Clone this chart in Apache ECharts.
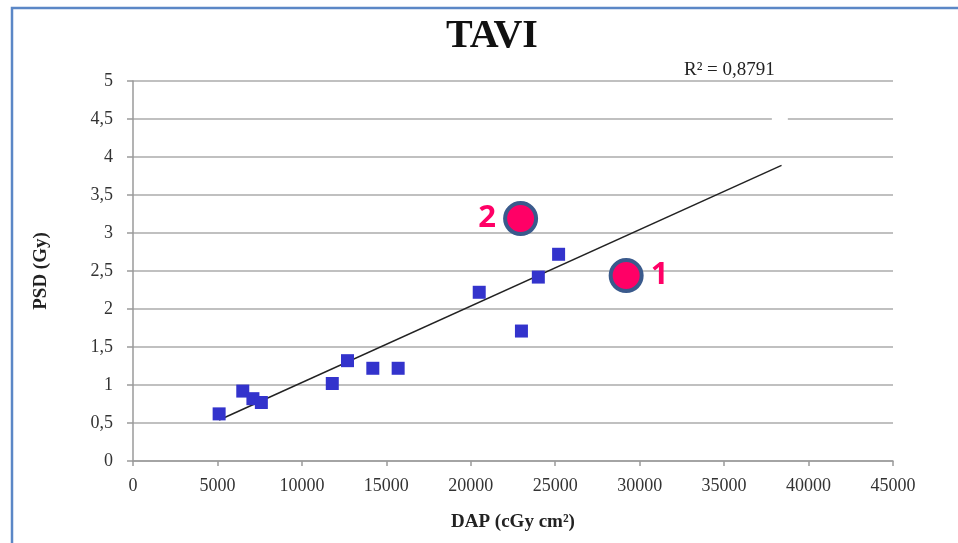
<!DOCTYPE html>
<html>
<head>
<meta charset="utf-8">
<script src="https://cdn.jsdelivr.net/npm/echarts@6/dist/echarts.min.js"></script>
<style>html,body{margin:0;padding:0;background:#fff}#c{width:958px;height:543px}</style>
</head>
<body>
<div id="c"></div>
<script>
// Data
const dapValues = [5100, 6500, 7100, 7600, 11800, 12700, 14200, 15700, 20500, 23000, 24000, 25200];
const psdValues = [0.62, 0.92, 0.82, 0.77, 1.02, 1.32, 1.22, 1.22, 2.22, 1.71, 2.42, 2.72];
const highlightDap = [29200, 22950];
const highlightPsd = [2.44, 3.19];
const highlightLabels = ['1', '2'];
const hiddenDap = [38300];
const hiddenPsd = [4.5];
const trendDap = [5100, 38400];
const trendPsd = [0.54, 3.89];
const titleText = 'TAVI';
const r2Text = 'R² = 0,8791';
const xName = 'DAP (cGy cm²)';
const yName = 'PSD (Gy)';

const serif = '"Liberation Serif", "DejaVu Serif", serif';
const chart = echarts.init(document.getElementById('c'));
chart.setOption({
  animation: false,
  backgroundColor: '#fff',
  title: [
    { text: titleText, top: 12, left: 441,
      textStyle: { fontFamily: serif, fontWeight: 'bold', fontSize: 40, color: '#111' } },
    { text: r2Text, left: 679, top: 56,
      textStyle: { fontFamily: serif, fontWeight: 'normal', fontSize: 19, color: '#222' } }
  ],
  graphic: [
    { type: 'rect', shape: { x: 12, y: 8, width: 1000, height: 600 },
      style: { fill: 'none', stroke: '#5B87C6', lineWidth: 2.5 }, silent: true, z: 100 }
  ],
  grid: { left: 133, right: 65, top: 81, bottom: 82, containLabel: false },
  xAxis: {
    type: 'value', min: 0, max: 45000, interval: 5000,
    name: xName, nameLocation: 'middle', nameGap: 52,
    nameTextStyle: { fontFamily: serif, fontWeight: 'bold', fontSize: 19, color: '#222' },
    axisLine: { show: true, lineStyle: { color: '#9a9a9a', width: 1.5 } },
    axisTick: { show: true, length: 5, lineStyle: { color: '#9a9a9a', width: 1.5 } },
    axisLabel: { fontFamily: serif, fontSize: 18, color: '#333', margin: 16,
      formatter: v => String(v) },
    splitLine: { show: false }
  },
  yAxis: {
    type: 'value', min: 0, max: 5, interval: 0.5,
    name: yName, nameLocation: 'middle', nameGap: 82, nameRotate: 90,
    nameTextStyle: { fontFamily: serif, fontWeight: 'bold', fontSize: 19, color: '#222' },
    axisLine: { show: true, lineStyle: { color: '#9a9a9a', width: 1.5 } },
    axisTick: { show: true, length: 6, lineStyle: { color: '#9a9a9a', width: 1.5 } },
    axisLabel: { fontFamily: serif, fontSize: 18, color: '#333', margin: 20,
      formatter: v => String(v).replace('.', ',') },
    splitLine: { show: true, lineStyle: { color: '#ababab', width: 1.5 } }
  },
  series: [
    { type: 'line', data: trendDap.map((x, i) => [x, trendPsd[i]]), showSymbol: false,
      lineStyle: { color: '#222', width: 1.5 }, z: 3 },
    { type: 'scatter', symbol: 'rect', symbolSize: 13,
      data: dapValues.map((x, i) => [x, psdValues[i]]),
      itemStyle: { color: '#3333CC', opacity: 1 }, z: 4 },
    { type: 'scatter', symbol: 'rect', symbolSize: 16,
      data: hiddenDap.map((x, i) => [x, hiddenPsd[i]]),
      itemStyle: { color: '#fff', opacity: 1 }, z: 4 },
    { type: 'scatter', symbol: 'circle', symbolSize: 31,
      data: highlightDap.map((x, i) => ({ value: [x, highlightPsd[i]],
        label: { show: true, formatter: highlightLabels[i], position: i === 0 ? 'right' : 'left', distance: 7 } })),
      itemStyle: { color: '#FF0066', borderColor: '#3A5A8C', borderWidth: 4, opacity: 1 },
      label: { fontFamily: '"Open Sans", "DejaVu Sans", sans-serif', fontWeight: 'bold', fontSize: 31, color: '#FF0066' },
      z: 5 }
  ]
});
</script>
</body>
</html>
